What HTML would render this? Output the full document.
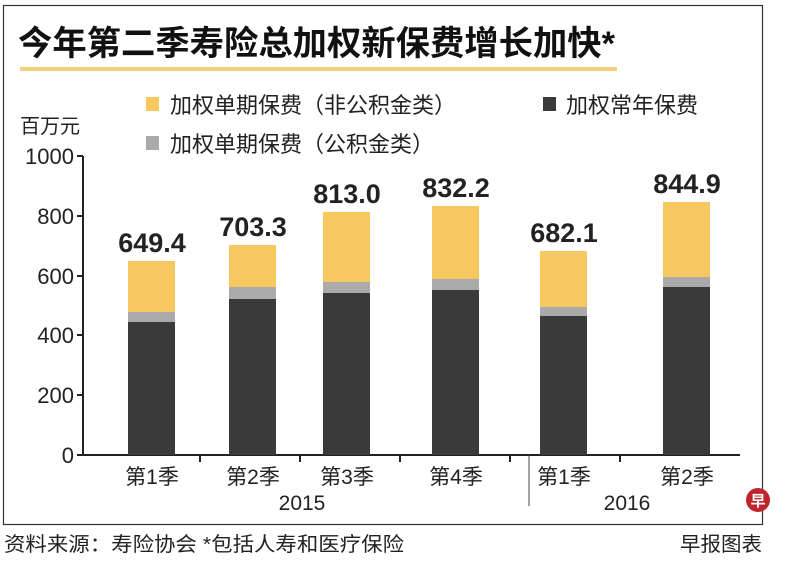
<!DOCTYPE html>
<html><head><meta charset="utf-8"><style>
body{margin:0;background:#fff;}
svg text{font-family:"Liberation Sans","Noto Sans CJK SC",sans-serif;}
</style></head><body>
<svg width="800" height="559" xmlns="http://www.w3.org/2000/svg">
<rect x="3.5" y="5.5" width="759" height="519" fill="none" stroke="#333" stroke-width="1.2"/>
<text x="18" y="55" font-size="34" font-weight="bold" fill="#111" textLength="597" lengthAdjust="spacingAndGlyphs">今年第二季寿险总加权新保费增长加快*</text>
<rect x="20" y="67" width="597" height="4" fill="#f3d27c"/>
<rect x="146" y="97" width="13" height="14" fill="#f8c860"/>
<text x="170" y="113" font-size="22" fill="#222">加权单期保费（非公积金类）</text>
<rect x="543" y="97" width="13" height="14" fill="#3a3a3a"/>
<text x="566" y="113" font-size="22" fill="#222">加权常年保费</text>
<rect x="146" y="136" width="13" height="14" fill="#aaa"/>
<text x="170" y="152" font-size="22" fill="#222">加权单期保费（公积金类）</text>
<text x="20" y="133" font-size="20" fill="#222">百万元</text>
<g font-size="22" fill="#222" text-anchor="end">
<text x="74" y="164">1000</text><text x="74" y="224">800</text><text x="74" y="284">600</text>
<text x="74" y="343">400</text><text x="74" y="403">200</text><text x="74" y="463">0</text>
</g>
<g stroke="#222" stroke-width="2">
<line x1="83" y1="156" x2="83" y2="456"/>
<line x1="77" y1="156" x2="83" y2="156"/><line x1="77" y1="216" x2="83" y2="216"/>
<line x1="77" y1="276" x2="83" y2="276"/><line x1="77" y1="335" x2="83" y2="335"/>
<line x1="77" y1="395" x2="83" y2="395"/>
<line x1="77" y1="455" x2="740" y2="455"/>
<line x1="200" y1="455" x2="200" y2="462"/><line x1="300" y1="455" x2="300" y2="462"/>
<line x1="400" y1="455" x2="400" y2="462"/><line x1="510" y1="455" x2="510" y2="462"/>
<line x1="620" y1="455" x2="620" y2="462"/>
</g>
<line x1="529" y1="455" x2="529" y2="506" stroke="#444" stroke-width="1"/>
<g>
<rect x="128" y="322" width="47" height="133" fill="#3a3a3a"/><rect x="128" y="312" width="47" height="10" fill="#aaa"/><rect x="128" y="261" width="47" height="51" fill="#f8c860"/>
<rect x="229" y="299" width="47" height="156" fill="#3a3a3a"/><rect x="229" y="287" width="47" height="12" fill="#aaa"/><rect x="229" y="245" width="47" height="42" fill="#f8c860"/>
<rect x="323" y="293" width="47" height="162" fill="#3a3a3a"/><rect x="323" y="282" width="47" height="11" fill="#aaa"/><rect x="323" y="212" width="47" height="70" fill="#f8c860"/>
<rect x="432" y="290" width="47" height="165" fill="#3a3a3a"/><rect x="432" y="279" width="47" height="11" fill="#aaa"/><rect x="432" y="206" width="47" height="73" fill="#f8c860"/>
<rect x="540" y="316" width="47" height="139" fill="#3a3a3a"/><rect x="540" y="307" width="47" height="9" fill="#aaa"/><rect x="540" y="251" width="47" height="56" fill="#f8c860"/>
<rect x="663" y="287" width="47" height="168" fill="#3a3a3a"/><rect x="663" y="277" width="47" height="10" fill="#aaa"/><rect x="663" y="202" width="47" height="75" fill="#f8c860"/>
</g>
<g font-size="27" font-weight="bold" fill="#222" text-anchor="middle">
<text x="152" y="252">649.4</text><text x="253" y="236">703.3</text><text x="347" y="203">813.0</text>
<text x="456" y="197">832.2</text><text x="564" y="242">682.1</text><text x="687" y="193">844.9</text>
</g>
<g font-size="21" fill="#222" text-anchor="middle">
<text x="152" y="484">第1季</text><text x="253" y="484">第2季</text><text x="347" y="484">第3季</text>
<text x="456" y="484">第4季</text><text x="564" y="484">第1季</text><text x="687" y="484">第2季</text>
<text x="302" y="510">2015</text><text x="627" y="510">2016</text>
</g>
<text x="4" y="551" font-size="20" fill="#222" textLength="400" lengthAdjust="spacingAndGlyphs">资料来源：寿险协会  *包括人寿和医疗保险</text>
<text x="680" y="551" font-size="20" fill="#222" textLength="82" lengthAdjust="spacingAndGlyphs">早报图表</text>
<circle cx="758" cy="500" r="12" fill="#c0242c"/>
<text x="758" y="506" font-size="15" font-weight="bold" fill="#fff" text-anchor="middle">早</text>
</svg>
</body></html>
